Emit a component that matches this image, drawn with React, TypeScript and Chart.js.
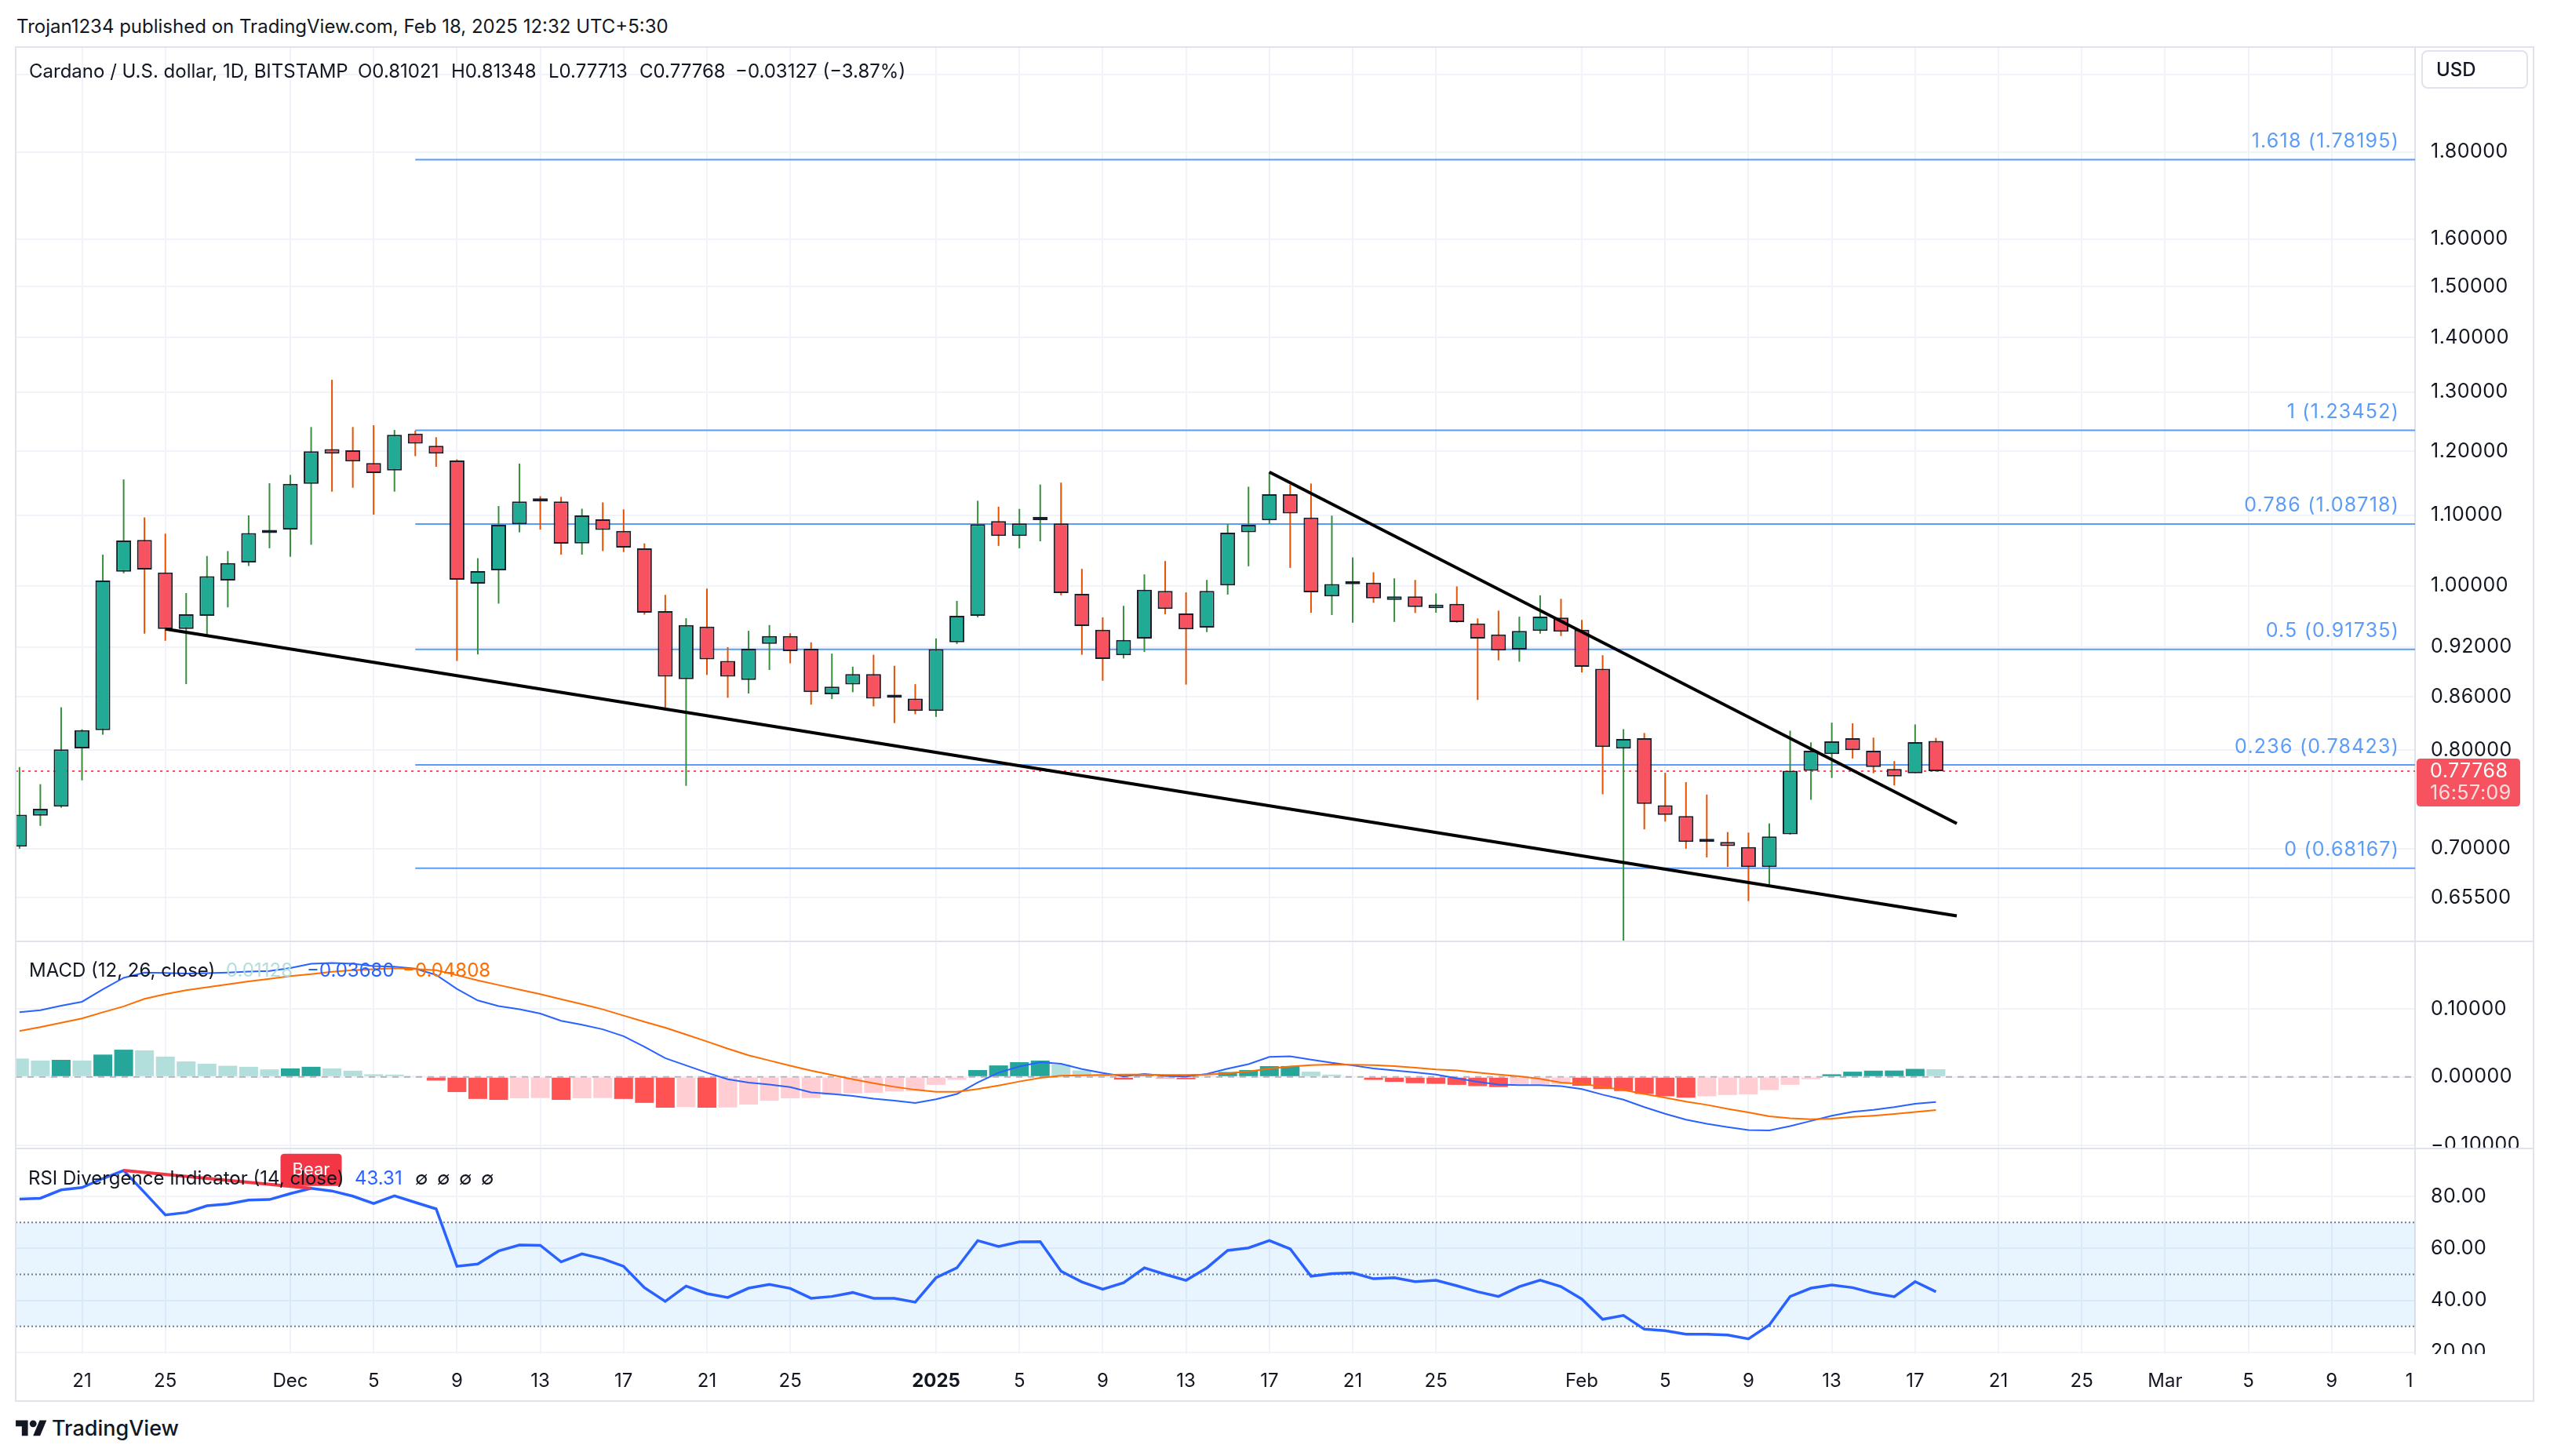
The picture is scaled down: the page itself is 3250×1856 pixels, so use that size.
import React, { useEffect, useRef } from 'react';
import { Chart, registerables } from 'chart.js';

Chart.register(...registerables);

// ---------------- data (day index 0 = Nov 21, 2024) ----------------
const FIRST_DAY = -3; // first candle: Nov 18, 2024

const opens = [
  0.702, 0.732, 0.741, 0.802, 0.822, 1.019, 1.064, 1.018, 0.943, 0.960, 1.007, 1.032, 1.074, 1.079, 1.148, 1.2035, 1.2015, 1.181, 1.169, 1.229,
  1.209, 1.185, 1.0027, 1.021, 1.087, 1.122, 1.121, 1.059, 1.094, 1.077, 1.052, 0.966, 0.881, 0.946, 0.903, 0.880, 0.924, 0.934, 0.918, 0.863,
  0.8747, 0.887, 0.860, 0.858, 0.8437, 0.926, 0.960, 1.0914, 1.0696, 1.093, 1.088, 0.989, 0.942, 0.910, 0.9307, 0.993, 0.963, 0.9447, 1.0004, 1.075,
  1.0927, 1.132, 1.0968, 0.9856, 1.002, 1.004, 0.9808, 0.9856, 0.970, 0.9756, 0.950, 0.936, 0.917, 0.9405, 0.9576, 0.9419, 0.8934, 0.8018, 0.8132, 0.7425,
  0.7316, 0.7066, 0.7065, 0.7016, 0.6828, 0.7138, 0.7781, 0.7959, 0.8132, 0.7995, 0.780, 0.7754, 0.81021,
];
const highs = [
  0.782, 0.764, 0.848, 0.823, 1.043, 1.155, 1.097, 1.073, 0.990, 1.041, 1.048, 1.100, 1.149, 1.162, 1.240, 1.322, 1.240, 1.243, 1.235, 1.234,
  1.223, 1.187, 1.038, 1.114, 1.180, 1.129, 1.128, 1.110, 1.1195, 1.109, 1.059, 0.9876, 0.9568, 0.996, 0.920, 0.9406, 0.948, 0.9375, 0.926, 0.912,
  0.896, 0.9106, 0.897, 0.875, 0.931, 0.9796, 1.122, 1.113, 1.1097, 1.147, 1.150, 1.023, 0.958, 0.973, 1.0154, 1.034, 0.991, 1.0078, 1.0872, 1.1436,
  1.1665, 1.147, 1.1485, 1.0996, 1.039, 1.0183, 1.010, 1.0078, 0.9895, 0.999, 0.9565, 0.9667, 0.9588, 0.987, 0.9823, 0.9546, 0.910, 0.8232, 0.8189, 0.7759,
  0.7661, 0.7533, 0.716, 0.7155, 0.7244, 0.8215, 0.8086, 0.8305, 0.8297, 0.8138, 0.7883, 0.8285, 0.81348,
];
const lows = [
  0.700, 0.722, 0.740, 0.768, 0.817, 1.017, 0.937, 0.928, 0.875, 0.934, 0.971, 1.027, 1.052, 1.040, 1.057, 1.136, 1.142, 1.101, 1.136, 1.192,
  1.175, 0.903, 0.911, 0.976, 1.075, 1.079, 1.043, 1.043, 1.048, 1.0466, 0.9615, 0.8475, 0.7623, 0.886, 0.859, 0.864, 0.892, 0.900, 0.851, 0.8575,
  0.8655, 0.849, 0.830, 0.840, 0.837, 0.924, 0.958, 1.0554, 1.052, 1.062, 0.987, 0.9106, 0.879, 0.906, 0.914, 0.962, 0.8745, 0.939, 0.988, 1.0266,
  1.087, 1.0244, 0.964, 0.961, 0.951, 0.977, 0.952, 0.9636, 0.964, 0.951, 0.8564, 0.9037, 0.902, 0.937, 0.934, 0.889, 0.7536, 0.52, 0.7186, 0.7262,
  0.700, 0.6918, 0.683, 0.652, 0.665, 0.7135, 0.748, 0.7705, 0.7911, 0.7754, 0.7627, 0.7754, 0.77713,
];
const closes = [
  0.733, 0.739, 0.801, 0.822, 1.007, 1.063, 1.022, 0.943, 0.962, 1.013, 1.031, 1.074, 1.078, 1.148, 1.200, 1.196, 1.1835, 1.165, 1.227, 1.2125,
  1.196, 1.008, 1.020, 1.086, 1.121, 1.121, 1.0586, 1.100, 1.0785, 1.053, 0.964, 0.884, 0.948, 0.905, 0.884, 0.918, 0.934, 0.915, 0.8655, 0.872,
  0.887, 0.858, 0.859, 0.8437, 0.9176, 0.960, 1.087, 1.0696, 1.088, 1.094, 0.990, 0.9467, 0.9054, 0.929, 0.9944, 0.969, 0.9426, 0.993, 1.0746, 1.086,
  1.132, 1.103, 0.991, 1.0022, 1.003, 0.983, 0.9856, 0.9714, 0.9745, 0.9517, 0.9307, 0.9157, 0.9406, 0.959, 0.9396, 0.8959, 0.8035, 0.8123, 0.7438, 0.7328,
  0.7065, 0.7064, 0.7026, 0.6828, 0.7118, 0.7781, 0.7995, 0.8098, 0.8001, 0.782, 0.7721, 0.80895, 0.77768,
];

const macdLine = [
  0.0950, 0.0979, 0.1046, 0.1104, 0.1287, 0.1456, 0.1533, 0.1528, 0.1518, 0.1523, 0.1533, 0.1547, 0.1557, 0.1600, 0.1663, 0.1673, 0.1663, 0.1629, 0.1620, 0.1591,
  0.1499, 0.1292, 0.1123, 0.1041, 0.0993, 0.0930, 0.0824, 0.0766, 0.0699, 0.0598, 0.0443, 0.0275, 0.0169, 0.0063, -0.0034, -0.0082, -0.0111, -0.0149, -0.0227, -0.0251,
  -0.0280, -0.0318, -0.0347, -0.0381, -0.0328, -0.0251, -0.0082, 0.0063, 0.0154, 0.0217, 0.0193, 0.0116, 0.0058, 0.0010, 0.0043, 0.0014, 0.0005, 0.0043, 0.0121, 0.0188,
  0.0294, 0.0304, 0.0255, 0.0207, 0.0169, 0.0125, 0.0096, 0.0067, 0.0034, -0.0019, -0.0072, -0.0111, -0.0121, -0.0121, -0.0135, -0.0178, -0.0260, -0.0333, -0.0443, -0.0540,
  -0.0627, -0.0689, -0.0738, -0.0781, -0.0786, -0.0723, -0.0646, -0.0569, -0.0511, -0.0482, -0.0443, -0.0395, -0.0368,
];
const signalLine = [
  0.0675, 0.0733, 0.0795, 0.0858, 0.0950, 0.1036, 0.1147, 0.1215, 0.1273, 0.1316, 0.1359, 0.1403, 0.1441, 0.1480, 0.1509, 0.1543, 0.1567, 0.1581, 0.1596, 0.1586,
  0.1567, 0.1494, 0.1417, 0.1350, 0.1282, 0.1215, 0.1142, 0.1070, 0.0993, 0.0901, 0.0810, 0.0723, 0.0622, 0.0521, 0.0415, 0.0318, 0.0241, 0.0164, 0.0092, 0.0029,
  -0.0034, -0.0092, -0.0145, -0.0188, -0.0217, -0.0217, -0.0178, -0.0125, -0.0067, -0.0014, 0.0019, 0.0024, 0.0029, 0.0034, 0.0034, 0.0029, 0.0029, 0.0034, 0.0053, 0.0082,
  0.0121, 0.0154, 0.0174, 0.0183, 0.0178, 0.0174, 0.0159, 0.0135, 0.0111, 0.0096, 0.0063, 0.0034, 0.0010, -0.0029, -0.0082, -0.0101, -0.0145, -0.0193, -0.0251, -0.0304,
  -0.0362, -0.0410, -0.0468, -0.0521, -0.0578, -0.0607, -0.0622, -0.0612, -0.0588, -0.0569, -0.0545, -0.0516, -0.0487,
];
const histogram = [
  0.0270, 0.0241, 0.0251, 0.0241, 0.0328, 0.0400, 0.0390, 0.0299, 0.0227, 0.0193, 0.0164, 0.0149, 0.0111, 0.0125, 0.0149, 0.0125, 0.0092, 0.0039, 0.0034, 0.0014,
  -0.0053, -0.0222, -0.0323, -0.0337, -0.0313, -0.0310, -0.0337, -0.0313, -0.0310, -0.0323, -0.0381, -0.0453, -0.0443, -0.0453, -0.0448, -0.0405, -0.0347, -0.0313, -0.0310, -0.0265,
  -0.0241, -0.0231, -0.0212, -0.0207, -0.0116, -0.0043, 0.0101, 0.0169, 0.0217, 0.0241, 0.0183, 0.0096, 0.0039, -0.0039, 0.0024, -0.0019, -0.0034, 0.0014, 0.0072, 0.0101,
  0.0159, 0.0160, 0.0077, 0.0034, 0.0010, -0.0043, -0.0072, -0.0092, -0.0101, -0.0116, -0.0135, -0.0149, -0.0111, -0.0108, -0.0106, -0.0130, -0.0178, -0.0207, -0.0250, -0.0284,
  -0.0304, -0.0284, -0.0265, -0.0255, -0.0193, -0.0116, -0.0034, 0.0039, 0.0077, 0.0092, 0.0094, 0.0118, 0.01128,
];
const rsiValues = [
  79, 79.3, 82.5, 83.4, 86.9, 90, 81.5, 72.9, 73.8, 76.4, 77.1, 78.6, 78.8, 81.1, 83.1, 82.1, 80.1, 77.3, 80.2, 77.7,
  75.2, 53.1, 54, 59, 61.3, 61.2, 54.8, 57.9, 56, 53.1, 44.9, 39.6, 45.5, 42.6, 41.1, 44.7, 46.1, 44.6, 40.8, 41.5,
  43, 40.8, 40.8, 39.3, 48.7, 52.5, 63, 60.7, 62.5, 62.6, 51.2, 47.1, 44.3, 46.8, 52.5, 50, 47.7, 52.5, 59.2, 60.2,
  63, 59.8, 49.3, 50.3, 50.6, 48.3, 48.7, 47.2, 47.7, 45.6, 43.3, 41.5, 45.3, 47.8, 45.3, 40.5, 32.7, 34.2, 28.9, 28.3,
  27, 27, 26.7, 25.2, 30.5, 41.5, 44.7, 45.9, 44.9, 42.8, 41.4, 47.2, 43.31,
];

const priceTicks = [2.0, 1.8, 1.6, 1.5, 1.4, 1.3, 1.2, 1.1, 1.0, 0.92, 0.86, 0.80, 0.70, 0.655];
const macdTicks = [0.1, 0, -0.1];
const rsiTicks = [80, 60, 40, 20];
const xTickDays = [0, 4, 10, 14, 18, 22, 26, 30, 34, 41, 45, 49, 53, 57, 61, 65, 72, 76, 80, 84, 88, 92, 96, 100, 104, 108, 112];
const xTickLabels = ['21', '25', 'Dec', '5', '9', '13', '17', '21', '25', '2025', '5', '9', '13', '17', '21', '25', 'Feb', '5', '9', '13', '17', '21', '25', 'Mar', '5', '9', '13'];

const fibLevels = ['1.618', '1', '0.786', '0.5', '0.236', '0'];
const fibPrices = [1.78195, 1.23452, 1.08718, 0.91735, 0.78423, 0.68167];
const FIB_START_DAY = 16;

const lowerTrend = [{ x: 4, y: 0.943 }, { x: 90, y: 0.639 }];
const upperTrend = [{ x: 57, y: 1.1665 }, { x: 90, y: 0.7244 }];
const rsiDivergence = [{ x: 2, y: 90 }, { x: 11, y: 83.1 }];

const LAST_PRICE = 0.77768;
const COUNTDOWN = '16:57:09';

// ---------------- layout / style ----------------
const FONT = 'Inter, Roboto, sans-serif';
const TEXT = '#131722';
const GRID = '#f0f3fa';
const AXIS_W = 172;
const AXIS_FONT = 25;
const X_MIN = -3.183;
const X_MAX = 112.0;
const PRICE_MIN = 0.618;
const PRICE_MAX = 2.0735;
const MACD_MIN = -0.10392;
const MACD_MAX = 0.19908;
const RSI_MIN = 19.35;
const RSI_MAX = 98.15;

const days = opens.map((_, k) => FIRST_DAY + k);

function xScaleOpts(): any {
  return {
    type: 'linear', min: X_MIN, max: X_MAX, bounds: 'data', offset: false,
    grid: { color: GRID, lineWidth: 2, drawTicks: false, offset: false },
    border: { display: false },
    ticks: { display: false },
    afterBuildTicks: (s: any) => { s.ticks = xTickDays.filter((d) => d < X_MAX).map((v) => ({ value: v })); },
    afterFit: (s: any) => { s.height = 0; s.paddingLeft = 0; s.paddingRight = 0; },
  };
}

function yScaleOpts(type: string, min: number, max: number, ticks: number[], fmt: (v: number) => string, showLabels = true): any {
  return {
    type, position: 'right', min, max, bounds: 'data', beginAtZero: false,
    grid: { color: GRID, lineWidth: 2, drawTicks: false },
    border: { display: true, color: '#e0e3eb', width: 2 },
    ticks: { display: showLabels, padding: 20, autoSkip: false, color: TEXT, font: { size: AXIS_FONT, family: FONT }, callback: (v: any) => fmt(Number(v)) },
    afterBuildTicks: (s: any) => { s.ticks = ticks.map((v) => ({ value: v })); },
    afterFit: (s: any) => { s.width = AXIS_W; s.paddingTop = 0; s.paddingBottom = 0; },
  };
}

// letter spacing for the axis labels drawn by Chart.js
const spacingPlugin = {
  id: 'axisSpacing',
  beforeDraw(chart: any) { (chart.ctx as any).letterSpacing = '0.5px'; },
  afterDraw(chart: any) { (chart.ctx as any).letterSpacing = '0px'; },
};

const baseOpts = (bottomPad = 0): any => ({
  responsive: false,
  maintainAspectRatio: false,
  animation: false,
  devicePixelRatio: 1,
  events: [],
  layout: { padding: { left: 20, right: 0, top: 0, bottom: bottomPad } },
  plugins: { legend: { display: false }, tooltip: { enabled: false } },
  elements: { point: { radius: 0 }, line: { tension: 0 } },
});

const hLine = (y: number) => [{ x: X_MIN, y }, { x: X_MAX, y }];
const minus = (v: number) => (v < 0 ? '\u2212' : '') + Math.abs(v).toFixed(5);

function rrect(ctx: CanvasRenderingContext2D, x: number, y: number, w: number, h: number, r: number) {
  ctx.beginPath();
  ctx.moveTo(x + r, y);
  ctx.lineTo(x + w - r, y);
  ctx.quadraticCurveTo(x + w, y, x + w, y + r);
  ctx.lineTo(x + w, y + h - r);
  ctx.quadraticCurveTo(x + w, y + h, x + w - r, y + h);
  ctx.lineTo(x + r, y + h);
  ctx.quadraticCurveTo(x, y + h, x, y + h - r);
  ctx.lineTo(x, y + r);
  ctx.quadraticCurveTo(x, y, x + r, y);
  ctx.closePath();
}

function priceConfig(): any {
  const up = closes.map((c, k) => c >= opens[k]);
  const pricePlugin = {
    id: 'priceExtras',
    afterDraw(chart: any) {
      const { ctx, chartArea, scales } = chart;
      const y = scales.y;
      ctx.save();
      ctx.font = `25px ${FONT}`;
      (ctx as any).letterSpacing = '1.2px';
      ctx.textBaseline = 'middle';
      ctx.textAlign = 'right';
      ctx.fillStyle = '#5b9cf6';
      fibPrices.forEach((p, k) => {
        ctx.fillText(`${fibLevels[k]} (${p.toFixed(5)})`, chartArea.right - 20, y.getPixelForValue(p) - 23);
      });
      (ctx as any).letterSpacing = '0.5px';
      const ly = y.getPixelForValue(LAST_PRICE);
      ctx.fillStyle = '#f7525f';
      rrect(ctx, chartArea.right + 2, ly - 16, 132, 61, 5);
      ctx.fill();
      ctx.textAlign = 'left';
      ctx.fillStyle = '#ffffff';
      ctx.font = `${AXIS_FONT}px ${FONT}`;
      ctx.fillText(LAST_PRICE.toFixed(5), chartArea.right + 19, ly + 1);
      ctx.fillStyle = 'rgba(255,255,255,0.8)';
      ctx.fillText(COUNTDOWN, chartArea.right + 19, ly + 29);
      ctx.restore();
    },
  };
  return {
    type: 'bar',
    data: {
      datasets: [
        { type: 'line', data: hLine(LAST_PRICE), borderColor: '#f7525f', borderWidth: 2, borderDash: [3, 5], pointRadius: 0, order: 6 },
        ...fibPrices.map((p) => ({ type: 'line', data: [{ x: FIB_START_DAY, y: p }, { x: X_MAX, y: p }], borderColor: '#5b9cf6', borderWidth: 2, pointRadius: 0, order: 5 })),
        {
          type: 'bar', data: days.map((d, k) => ({ x: d, y: [lows[k], highs[k]] })),
          backgroundColor: up.map((u) => (u ? '#388e3c' : '#e65100')), borderWidth: 0,
          barThickness: 2, grouped: false, inflateAmount: 0, order: 4,
        },
        {
          type: 'bar', data: days.map((d, k) => ({ x: d, y: [opens[k], closes[k]] })),
          backgroundColor: up.map((u) => (u ? '#22ab94' : '#f7525f')), borderColor: '#1a1e2a', borderWidth: 2,
          borderSkipped: false, barThickness: 19, minBarLength: 4, grouped: false, inflateAmount: 0, order: 3,
        },
        { type: 'line', data: lowerTrend, borderColor: '#000000', borderWidth: 4, pointRadius: 0, order: 1 },
        { type: 'line', data: upperTrend, borderColor: '#000000', borderWidth: 4, pointRadius: 0, order: 1 },
      ],
    },
    options: {
      ...baseOpts(),
      scales: {
        x: xScaleOpts(),
        y: yScaleOpts('logarithmic', PRICE_MIN, PRICE_MAX, priceTicks, (v) => v.toFixed(5)),
      },
    },
    plugins: [spacingPlugin, pricePlugin],
  };
}

function macdConfig(): any {
  const colors = histogram.map((h, k) => {
    const prev = k > 0 ? histogram[k - 1] : h;
    if (h >= 0) return prev < h ? '#26a69a' : '#b2dfdb';
    return prev < h ? '#ffcdd2' : '#ff5252';
  });
  return {
    type: 'bar',
    data: {
      datasets: [
        { type: 'line', data: hLine(0), borderColor: '#b2b5be', borderWidth: 2, borderDash: [8, 7], pointRadius: 0, order: 5 },
        { type: 'bar', data: days.map((d, k) => ({ x: d, y: histogram[k] })), backgroundColor: colors, borderWidth: 0, barThickness: 24, grouped: false, inflateAmount: 0, order: 3 },
        { type: 'line', data: days.map((d, k) => ({ x: d, y: macdLine[k] })), borderColor: '#2962ff', borderWidth: 2, pointRadius: 0, order: 2 },
        { type: 'line', data: days.map((d, k) => ({ x: d, y: signalLine[k] })), borderColor: '#ff6d00', borderWidth: 2, pointRadius: 0, order: 1 },
      ],
    },
    options: {
      ...baseOpts(),
      scales: {
        x: xScaleOpts(),
        y: yScaleOpts('linear', MACD_MIN, MACD_MAX, macdTicks, minus),
      },
    },
    plugins: [spacingPlugin],
  };
}

function rsiConfig(): any {
  const rsiPlugin = {
    id: 'rsiExtras',
    afterDraw(chart: any) {
      const { ctx, chartArea, scales } = chart;
      const x = scales.x;
      const y = scales.y;
      // right-axis labels, clipped to the pane
      ctx.save();
      ctx.beginPath();
      ctx.rect(chartArea.right, 0, chart.width - chartArea.right, chartArea.bottom);
      ctx.clip();
      ctx.font = `${AXIS_FONT}px ${FONT}`;
      (ctx as any).letterSpacing = '0.5px';
      ctx.fillStyle = TEXT;
      ctx.textAlign = 'left';
      ctx.textBaseline = 'middle';
      rsiTicks.forEach((v) => ctx.fillText(v.toFixed(2), chartArea.right + 20, y.getPixelForValue(v)));
      ctx.restore();
      // "Bear" divergence label
      const end = rsiDivergence[1];
      const bx = x.getPixelForValue(end.x);
      const by = y.getPixelForValue(end.y);
      ctx.save();
      ctx.fillStyle = '#f23645';
      rrect(ctx, bx - 39, by - 44, 78, 41, 5);
      ctx.fill();
      ctx.fillStyle = '#ffffff';
      ctx.font = `22px ${FONT}`;
      ctx.textAlign = 'center';
      ctx.textBaseline = 'middle';
      ctx.fillText('Bear', bx, by - 23);
      ctx.restore();
      // time-axis labels
      ctx.save();
      ctx.beginPath();
      ctx.rect(0, chartArea.bottom, chartArea.right - 2, chart.height - chartArea.bottom);
      ctx.clip();
      ctx.fillStyle = TEXT;
      ctx.textAlign = 'center';
      ctx.textBaseline = 'middle';
      xTickDays.forEach((d, k) => {
        ctx.font = `${xTickLabels[k] === '2025' ? 'bold ' : ''}24px ${FONT}`;
        ctx.fillText(xTickLabels[k], x.getPixelForValue(d), chartArea.bottom + 35);
      });
      ctx.restore();
    },
  };
  const band = { borderColor: '#787b86', borderWidth: 2, borderDash: [2, 3], pointRadius: 0 };
  return {
    type: 'line',
    data: {
      datasets: [
        { ...band, data: hLine(70), fill: '+1', backgroundColor: 'rgba(33,150,243,0.1)', order: 5 },
        { ...band, data: hLine(30), fill: false, order: 5 },
        { ...band, data: hLine(50), fill: false, order: 5 },
        { data: days.map((d, k) => ({ x: d, y: rsiValues[k] })), borderColor: '#2962ff', borderWidth: 3.5, pointRadius: 0, fill: false, order: 2 },
        { data: rsiDivergence, borderColor: '#f23645', borderWidth: 4, pointRadius: 0, fill: false, order: 1 },
      ],
    },
    options: {
      ...baseOpts(60),
      scales: {
        x: xScaleOpts(),
        y: yScaleOpts('linear', RSI_MIN, RSI_MAX, rsiTicks, (v) => v.toFixed(2), false),
      },
    },
    plugins: [rsiPlugin],
  };
}

const Txt = ({ x, y, size = 24, color = TEXT, weight = 400, children }: any) => (
  <div
    style={{
      position: 'absolute', left: x, top: y - size * 0.6, height: size * 1.2, lineHeight: `${size * 1.2}px`,
      fontSize: size, color, fontWeight: weight, whiteSpace: 'nowrap', fontFamily: FONT,
    }}
  >
    {children}
  </div>
);

export default function App() {
  const priceRef = useRef<HTMLCanvasElement>(null);
  const macdRef = useRef<HTMLCanvasElement>(null);
  const rsiRef = useRef<HTMLCanvasElement>(null);

  useEffect(() => {
    document.body.style.margin = '0';
    Chart.defaults.font.family = FONT;
    Chart.defaults.font.size = 24;
    Chart.defaults.color = TEXT;
    const charts = [
      new Chart(priceRef.current as HTMLCanvasElement, priceConfig()),
      new Chart(macdRef.current as HTMLCanvasElement, macdConfig()),
      new Chart(rsiRef.current as HTMLCanvasElement, rsiConfig()),
    ];
    return () => charts.forEach((c) => c.destroy());
  }, []);

  const canvasStyle = (top: number, height: number): any => ({ position: 'absolute', left: 0, top, width: 3250, height });

  return (
    <div style={{ position: 'absolute', left: 0, top: 0, width: 3250, height: 1856, background: '#ffffff', overflow: 'hidden', fontFamily: FONT }}>
      <canvas ref={priceRef} width={3250} height={1138} style={canvasStyle(61, 1138)} />
      <canvas ref={macdRef} width={3250} height={263} style={canvasStyle(1200, 263)} />
      <canvas ref={rsiRef} width={3250} height={321} style={canvasStyle(1465, 321)} />

      {/* frame and pane separators */}
      <div style={{ position: 'absolute', left: 19, top: 59, width: 3211, height: 1728, border: '2px solid #e0e3eb', boxSizing: 'border-box' }} />
      <div style={{ position: 'absolute', left: 19, top: 1199, width: 3211, height: 2, background: '#e0e3eb' }} />
      <div style={{ position: 'absolute', left: 19, top: 1463, width: 3211, height: 2, background: '#e0e3eb' }} />

      {/* header */}
      <Txt x={21} y={34}>Trojan1234 published on TradingView.com, Feb 18, 2025 12:32 UTC+5:30</Txt>

      {/* price legend */}
      <Txt x={37} y={91}>Cardano / U.S. dollar, 1D, BITSTAMP</Txt>
      <Txt x={456} y={91}>O0.81021</Txt>
      <Txt x={575} y={91}>H0.81348</Txt>
      <Txt x={699} y={91}>L0.77713</Txt>
      <Txt x={815} y={91}>C0.77768</Txt>
      <Txt x={937} y={91}>{'\u22120.03127 (\u22123.87%)'}</Txt>

      {/* currency box */}
      <div style={{ position: 'absolute', left: 3086, top: 64, width: 136, height: 49, border: '2px solid #e0e3eb', borderRadius: 8, boxSizing: 'border-box', background: '#ffffff' }} />
      <Txt x={3105} y={89} weight={500}>USD</Txt>

      {/* MACD legend */}
      <Txt x={37} y={1237}>MACD (12, 26, close)</Txt>
      <Txt x={288} y={1237} color="#b2dfdb">0.01128</Txt>
      <Txt x={391} y={1237} color="#2962ff">{'\u22120.03680'}</Txt>
      <Txt x={513} y={1237} color="#ff6d00">{'\u22120.04808'}</Txt>

      {/* RSI legend */}
      <Txt x={36} y={1502}>RSI Divergence Indicator (14, close)</Txt>
      <Txt x={452} y={1502} color="#2962ff">43.31</Txt>
      <Txt x={529} y={1502}>{'\u2205'}</Txt>
      <Txt x={557} y={1502}>{'\u2205'}</Txt>
      <Txt x={585} y={1502}>{'\u2205'}</Txt>
      <Txt x={613} y={1502}>{'\u2205'}</Txt>

      {/* TradingView logo */}
      <svg style={{ position: 'absolute', left: 20, top: 1806 }} width={40} height={31} viewBox="0 0 36 28">
        <path d="M14 22H7V11H0V4h14v18zM28 22h-8l7.5-18h8L28 22z" fill={TEXT} />
        <circle cx="20" cy="8" r="4" fill={TEXT} />
      </svg>
      <Txt x={66} y={1821} size={27} weight={500}>TradingView</Txt>
    </div>
  );
}
